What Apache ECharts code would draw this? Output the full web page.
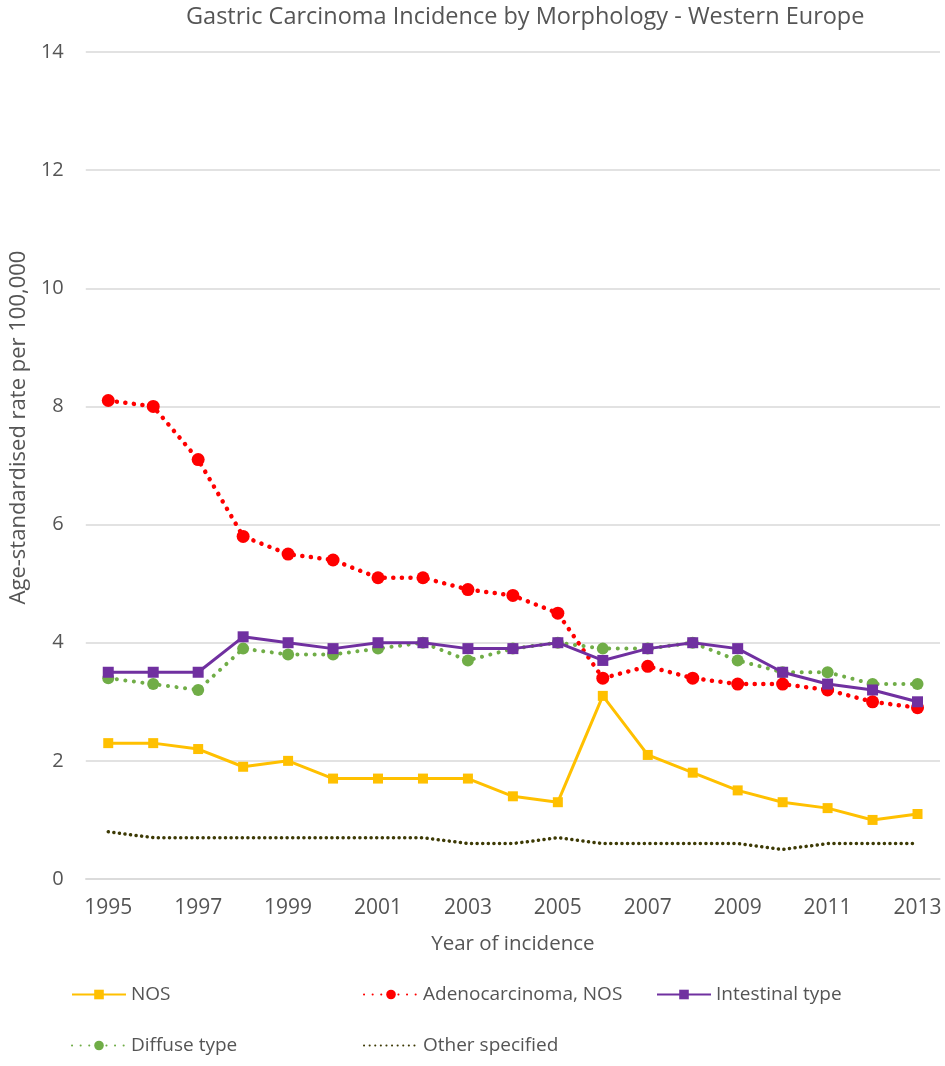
<!DOCTYPE html>
<html>
<head>
<meta charset="utf-8">
<script src="https://cdn.jsdelivr.net/npm/echarts@6/dist/echarts.min.js"></script>
<style>
  html, body { margin: 0; padding: 0; background: #fff; }
  #chart { width: 945px; height: 1066px; }
</style>
</head>
<body>
<div id="chart"></div>
<script>
const years = ['1995', '1996', '1997', '1998', '1999', '2000', '2001', '2002', '2003', '2004',
  '2005', '2006', '2007', '2008', '2009', '2010', '2011', '2012', '2013']

const nos = [2.3, 2.3, 2.2, 1.9, 2.0, 1.7, 1.7, 1.7, 1.7, 1.4, 1.3, 3.1, 2.1, 1.8, 1.5, 1.3, 1.2, 1.0, 1.1]
const adeno = [8.1, 8.0, 7.1, 5.8, 5.5, 5.4, 5.1, 5.1, 4.9, 4.8, 4.5, 3.4, 3.6, 3.4, 3.3, 3.3, 3.2, 3.0, 2.9]
const intestinal = [3.5, 3.5, 3.5, 4.1, 4.0, 3.9, 4.0, 4.0, 3.9, 3.9, 4.0, 3.7, 3.9, 4.0, 3.9, 3.5, 3.3, 3.2, 3.0]
const diffuse = [3.4, 3.3, 3.2, 3.9, 3.8, 3.8, 3.9, 4.0, 3.7, 3.9, 4.0, 3.9, 3.9, 4.0, 3.7, 3.5, 3.5, 3.3, 3.3]
const other = [0.8, 0.7, 0.7, 0.7, 0.7, 0.7, 0.7, 0.7, 0.6, 0.6, 0.7, 0.6, 0.6, 0.6, 0.6, 0.5, 0.6, 0.6, 0.6]

const FONT = '"Open Sans", sans-serif'
const TXT = '#555555'

const chart = echarts.init(document.getElementById('chart'))

const legendBase = {
  itemWidth: 54,
  itemHeight: 12,
  textStyle: { fontFamily: FONT, fontSize: 19, color: TXT },
}

chart.setOption({
  animation: false,
  title: {
    text: 'Gastric Carcinoma Incidence by Morphology - Western Europe',
    left: 181,
    top: 0,
    textStyle: { fontFamily: FONT, fontSize: 23.5, fontWeight: 'normal', color: TXT },
  },
  legend: [
    { ...legendBase, data: ['NOS'], left: 66, top: 980 },
    { ...legendBase, data: ['Adenocarcinoma, NOS'], left: 358, top: 980 },
    { ...legendBase, data: ['Intestinal type'], left: 651, top: 980 },
    { ...legendBase, data: ['Diffuse type'], left: 66, top: 1031 },
    { ...legendBase, data: [{ name: 'Other specified', itemStyle: { opacity: 0 } }], left: 358, top: 1031 },
  ],
  grid: { left: 79, right: 5, top: 52, bottom: 187 },
  xAxis: {
    type: 'category',
    data: years,
    boundaryGap: true,
    name: 'Year of incidence',
    nameLocation: 'middle',
    nameGap: 55,
    nameTextStyle: { fontFamily: FONT, fontSize: 20.5, color: TXT },
    axisLine: { lineStyle: { color: '#d9d9d9', width: 1.5 } },
    axisTick: { show: false },
    axisLabel: { interval: 1, margin: 19, fontFamily: FONT, fontSize: 21, color: TXT },
  },
  yAxis: {
    type: 'value',
    min: 0,
    max: 14,
    interval: 2,
    name: 'Age-standardised rate per 100,000',
    nameLocation: 'middle',
    nameGap: 55,
    nameTextStyle: { fontFamily: FONT, fontSize: 22, color: TXT, padding: [0, 0, 0, 76] },
    axisLine: { show: false },
    axisTick: { show: false },
    axisLabel: { margin: 22, fontFamily: FONT, fontSize: 20, color: TXT },
    splitLine: { lineStyle: { color: '#d9d9d9', width: 1.5 } },
  },
  series: [
    {
      name: 'Other specified',
      type: 'line',
      data: other,
      symbol: 'none',
      color: '#3d3a05',
      lineStyle: { width: 3.5, type: [0.1, 5.5], cap: 'round' },
      z: 1,
    },
    {
      name: 'NOS',
      type: 'line',
      data: nos,
      symbol: 'rect',
      symbolSize: 10,
      color: '#ffc000',
      lineStyle: { width: 3 },
      z: 2,
    },
    {
      name: 'Diffuse type',
      type: 'line',
      data: diffuse,
      symbol: 'circle',
      symbolSize: 12,
      color: '#70ad47',
      lineStyle: { width: 4, type: [0.1, 8.5], cap: 'round' },
      z: 3,
    },
    {
      name: 'Adenocarcinoma, NOS',
      type: 'line',
      data: adeno,
      symbol: 'circle',
      symbolSize: 13,
      color: '#ff0000',
      lineStyle: { width: 4.5, type: [0.1, 8.5], cap: 'round' },
      z: 4,
    },
    {
      name: 'Intestinal type',
      type: 'line',
      data: intestinal,
      symbol: 'rect',
      symbolSize: 11,
      color: '#7030a0',
      lineStyle: { width: 3 },
      z: 5,
    },
  ],
})
</script>
</body>
</html>
